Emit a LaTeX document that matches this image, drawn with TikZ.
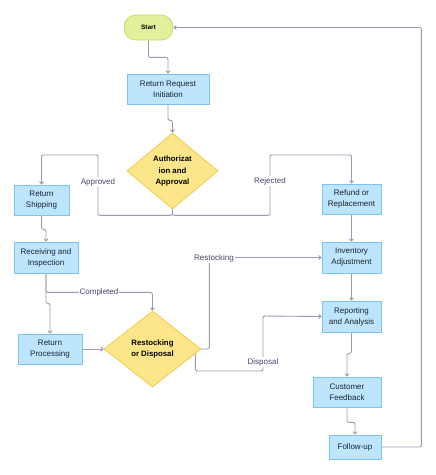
\documentclass[tikz,border=0pt]{standalone}
\usepackage{fontspec}
\setmainfont{Liberation Sans}
\usetikzlibrary{shapes.geometric,arrows.meta,backgrounds}
\definecolor{boxfill}{HTML}{BDE5FD}
\definecolor{boxdraw}{HTML}{7CC4F5}
\definecolor{diafill}{HTML}{FDE68A}
\definecolor{diadraw}{HTML}{F2CB4C}
\definecolor{startfill}{HTML}{E1F09A}
\definecolor{startdraw}{HTML}{C5DB6A}
\definecolor{linec}{HTML}{9C99B3}
\definecolor{txt}{HTML}{1A2230}
\definecolor{lbl}{HTML}{46466A}
\tikzset{
  procbox/.style={rectangle, draw=boxdraw, fill=boxfill, line width=0.8pt, inner sep=0pt,
    align=center, text=txt, font=\fontsize{8}{11}\selectfont},
  decbox/.style={diamond, draw=diadraw, fill=diafill, line width=0.8pt, inner sep=0pt,
    align=center, text=black, font=\bfseries\fontsize{7.8}{11.7}\selectfont},
  startbox/.style={rectangle, rounded corners=12pt, draw=startdraw, fill=startfill, line width=0.8pt,
    minimum width=49pt, minimum height=25pt, inner sep=0pt, font=\bfseries\fontsize{6.4}{7}\selectfont, text=black},
  conn/.style={draw=linec, line width=0.9pt, rounded corners=2pt, -{Straight Barb[length=2.2pt,width=4pt]}},
  lab/.style={fill=white, text=lbl, inner sep=1pt, font=\fontsize{8}{9}\selectfont}
}
\begin{document}
\begin{tikzpicture}[x=1pt,y=-1pt]
\useasboundingbox (0,0) rectangle (436,475);
\node[startbox] (start) at (148.5,27.5) {Start};
\node[procbox, minimum width=82pt, minimum height=30pt] (rri) at (168,89) {Return Request\\Initiation};
\node[decbox, minimum width=91pt, minimum height=76pt] (auth) at (172.5,171) {Authorizat\\ion and\\Approval};
\node[procbox, minimum width=55pt, minimum height=30pt] (ship) at (41.5,200) {Return\\Shipping};
\node[procbox, minimum width=59pt, minimum height=30pt] (refund) at (351.5,199) {Refund or\\Replacement};
\node[procbox, minimum width=64pt, minimum height=31pt] (recv) at (46,257.5) {Receiving and\\Inspection};
\node[procbox, minimum width=64pt, minimum height=30pt] (proc) at (50,349) {Return\\Processing};
\node[decbox, minimum width=97pt, minimum height=76pt] (rest) at (152.5,349) {Restocking\\or Disposal};
\node[procbox, minimum width=59pt, minimum height=31pt] (inv) at (351.5,257.5) {Inventory\\Adjustment};
\node[procbox, minimum width=59pt, minimum height=31pt] (rep) at (351.5,316.5) {Reporting\\and Analysis};
\node[procbox, minimum width=68pt, minimum height=30pt] (cust) at (347,392) {Customer\\Feedback};
\node[procbox, minimum width=52pt, minimum height=24pt] (fu) at (355,447) {Follow-up};
\begin{scope}[on background layer]
\fill[white] (0,0) rectangle (436,475);
\draw[conn] (start.south) -- ++(0,17) -| (rri.north);
\draw[conn] (rri.south) -- ++(0,16) -| (auth.north);
\draw[conn] (auth.south) -- ++(0,6) -| (98,155) -| (ship.north);
\draw[conn] (auth.south) -- ++(0,6) -| (270,155) -| (refund.north);
\draw[conn] (ship.south) -- ++(0,14) -| (recv.north);
\draw[conn] (recv.south) -- ++(0,19) -| (rest.north);
\draw[conn] (recv.south) -- ++(0,30) -| (proc.north);
\draw[conn] (proc.east) -- (rest.west);
\draw[conn] (rest.east) -- ++(8,0) |- (inv.west);
\draw[conn] (rest.east) -- ++(-6,0) -- ++(0,22) -| (263,316) -- (rep.west);
\draw[conn] (refund.south) -- (inv.north);
\draw[conn] (inv.south) -- (rep.north);
\draw[conn] (rep.south) -- ++(0,21) -| (cust.north);
\draw[conn] (cust.south) -- ++(0,15) -| (fu.north);
\draw[conn] (fu.east) -- ++(40,0) |- (start.east);
\end{scope}
\node[lab] (lapp) at (98,182) {Approved};
\node[lab] (lrej) at (270,181) {Rejected};
\node[lab] (lcomp) at (99,292) {Completed};
\node[lab] (lrest) at (214,258) {Restocking};
\node[lab] (ldisp) at (263,362) {Disposal};
\end{tikzpicture}
\end{document}
